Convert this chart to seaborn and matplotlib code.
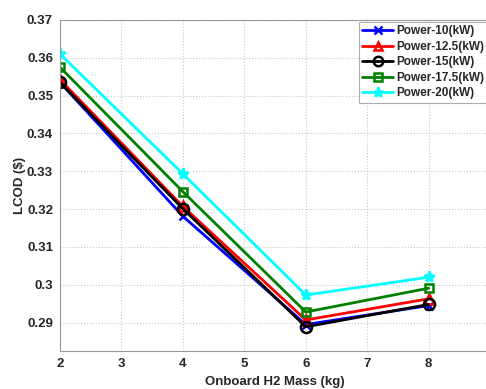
import matplotlib
matplotlib.use("Agg")
import matplotlib.pyplot as plt
import seaborn as sns
import pandas as pd
import numpy as np

mass = [2, 4, 6, 8]
power_labels = ["Power-10(kW)", "Power-12.5(kW)", "Power-15(kW)", "Power-17.5(kW)", "Power-20(kW)"]
p10 = [0.3535, 0.3181, 0.2895, 0.2945]
p12_5 = [0.3542, 0.3207, 0.2907, 0.2963]
p15 = [0.3535, 0.3201, 0.2889, 0.2948]
p17_5 = [0.3575, 0.3246, 0.2928, 0.2991]
p20 = [0.3610, 0.3293, 0.2973, 0.3020]
yticks = [0.29, 0.30, 0.31, 0.32, 0.33, 0.34, 0.35, 0.36, 0.37]
xticks = [2, 3, 4, 5, 6, 7, 8]

series = [p10, p12_5, p15, p17_5, p20]
colors = ["#0000ff", "#ff0000", "#000000", "#008000", "#00ffff"]
markers = ["x", "^", "o", "s", "*"]
mfc = ["#0000ff", "none", "none", "none", "#00ffff"]
msizes = [6, 7, 8, 6, 8]

rows = []
for lab, vals in zip(power_labels, series):
    for m, v in zip(mass, vals):
        rows.append({"mass": m, "lcod": v, "series": lab})
df = pd.DataFrame(rows)

sns.set_style("white")
plt.rcParams["font.family"] = ["Liberation Sans", "DejaVu Sans"]
plt.rcParams["font.weight"] = "bold"

fig = plt.figure(figsize=(4.86, 3.89), dpi=100)
ax = fig.add_axes([0.1235, 0.0977, 0.885, 0.851])

for lab, c, mk, fc, ms in zip(power_labels, colors, markers, mfc, msizes):
    sub = df[df["series"] == lab]
    sns.lineplot(data=sub, x="mass", y="lcod", ax=ax, color=c, marker=mk,
                 markersize=ms, markerfacecolor=fc, markeredgecolor=c,
                 markeredgewidth=1.8, linewidth=2, label=lab)

ax.set_xlim(2, 9)
ax.set_ylim(0.2825, 0.37)
ax.set_xticks(xticks)
ax.set_xticklabels([str(t) for t in xticks], fontsize=9.5, fontweight="bold")
ax.set_yticks(yticks)
ax.set_yticklabels(["%g" % t for t in yticks], fontsize=9.5, fontweight="bold")
ax.tick_params(direction="in", length=3, color="#888888", pad=5)
ax.grid(True, linestyle=":", color="#c8c8c8", linewidth=0.8)
for s in ax.spines.values():
    s.set_color("#999999")
    s.set_linewidth(0.8)

ax.set_xlabel("Onboard H2 Mass (kg)", fontsize=9.5, fontweight="bold")
ax.set_ylabel(r"LCOD (\$)", fontsize=9.5, fontweight="bold")
ax.xaxis.set_label_coords(0.5, -0.076)
ax.yaxis.set_label_coords(-0.078, 0.5)

leg = ax.legend(loc="upper right", bbox_to_anchor=(0.995, 0.995), fontsize=8.5,
                frameon=True, fancybox=False, edgecolor="#999999",
                handlelength=2.6, borderpad=0.3, labelspacing=0.3,
                handletextpad=0.3, borderaxespad=0.0, markerscale=0.85)
for t in leg.get_texts():
    t.set_fontweight("bold")
leg.get_frame().set_linewidth(0.8)

fig.savefig("out.png", dpi=100)
